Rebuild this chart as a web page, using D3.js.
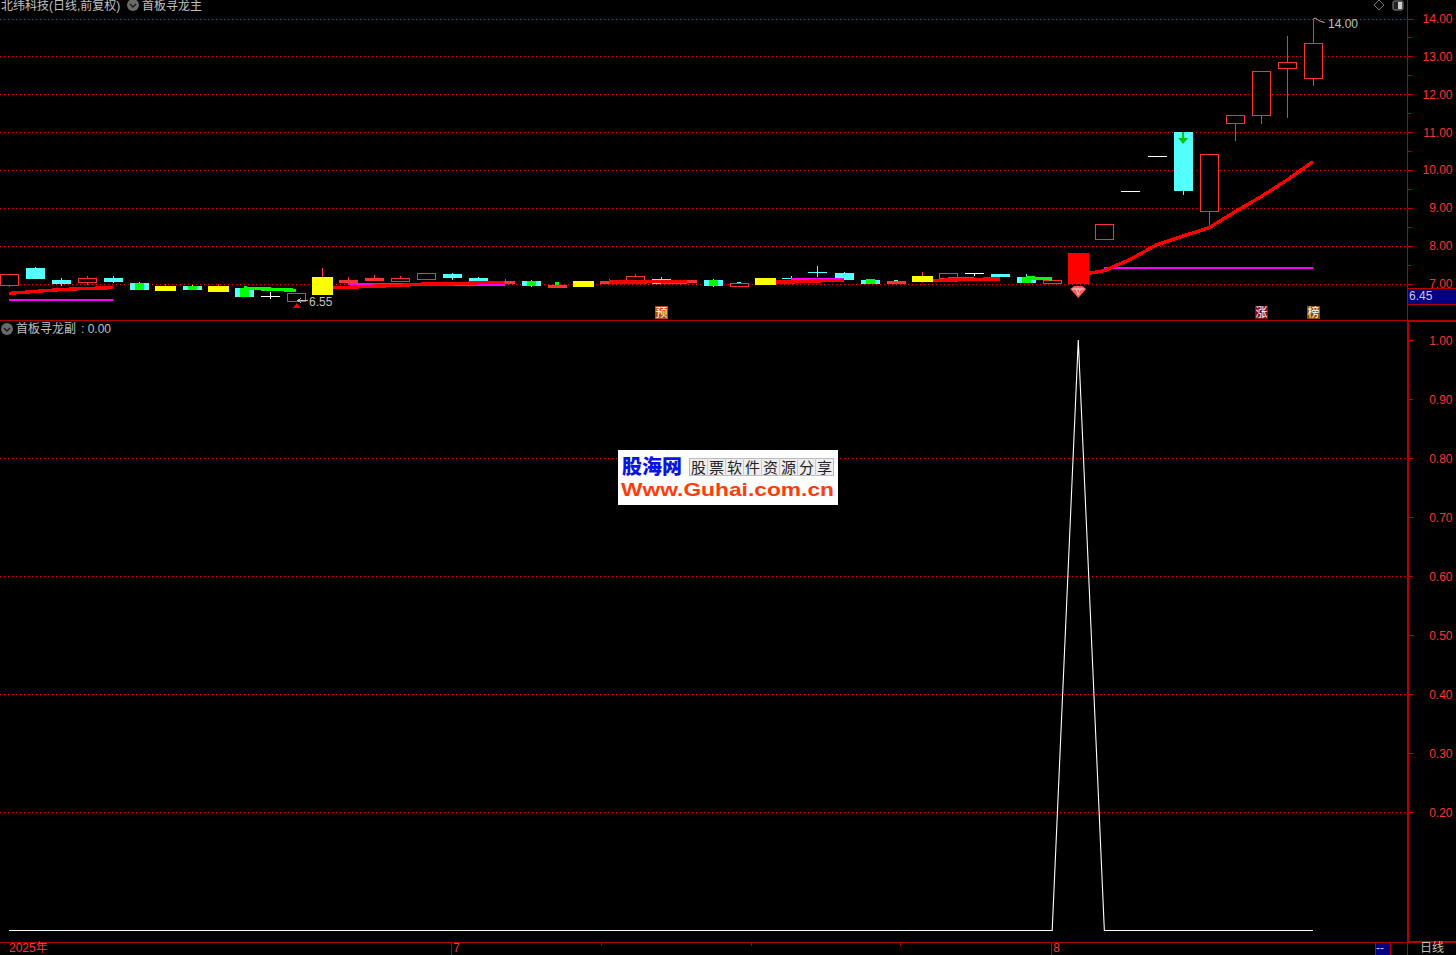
<!DOCTYPE html>
<html><head><meta charset="utf-8">
<style>html,body{margin:0;padding:0;background:#000;overflow:hidden}svg{display:block}
text{font-family:"Liberation Sans","Noto Sans CJK SC",sans-serif;font-size:12px}</style>
<script src="https://cdnjs.cloudflare.com/ajax/libs/d3/7.9.0/d3.min.js"></script>
</head><body><svg id="c" width="1456" height="955"></svg>
<script>
// ---- data ----
const kinds = ["h","c","c","h","c","c","y","c","y","c","w","h","y","h","h","h","h","c","c","h","c","h","y","h","h","c","h","c","h","y","c","c","c","c","h","y","h","w","c","c","h","r","h","w","w","c","h","h","h","h","h"];
const bodyTop = [7.25,7.41,7.09,7.14,7.15,7.01,6.93,6.93,6.93,6.88,6.67,6.74,7.17,7.09,7.15,7.15,7.28,7.25,7.15,7.07,7.07,6.96,7.07,7.07,7.20,7.12,7.09,7.09,7.01,7.15,7.15,7.30,7.28,7.09,7.07,7.20,7.28,7.27,7.25,7.17,7.09,7.81,8.56,9.44,10.37,11.00,10.41,11.44,12.61,12.84,13.35];
const bodyBottom = [6.97,7.15,7.01,7.05,7.07,6.85,6.83,6.85,6.80,6.67,6.67,6.55,6.72,7.04,7.09,7.07,7.12,7.17,7.07,7.01,6.96,6.91,6.93,7.01,7.01,7.01,7.04,6.96,6.94,6.99,7.15,7.30,7.12,7.01,7.01,7.07,7.14,7.27,7.20,7.04,7.01,7.01,8.18,9.44,10.37,9.47,8.91,11.25,11.44,12.70,12.44];
const highs = [7.25,7.44,7.15,7.20,7.20,7.04,6.99,6.97,6.99,6.88,6.77,6.74,7.41,7.17,7.22,7.20,7.28,7.28,7.17,7.12,7.09,6.96,7.07,7.12,7.25,7.17,7.09,7.12,7.01,7.15,7.20,7.46,7.30,7.12,7.07,7.30,7.28,7.27,7.25,7.25,7.09,7.81,8.56,9.44,10.37,11.00,10.41,11.44,12.61,13.54,14.00];
const lows = [6.92,7.11,6.94,6.97,7.01,6.85,6.80,6.85,6.80,6.67,6.59,6.55,6.72,7.04,7.09,7.07,7.12,7.09,7.07,7.01,6.91,6.91,6.91,7.01,7.01,7.01,7.04,6.91,6.94,6.99,7.09,7.17,7.12,6.99,7.01,7.07,7.14,7.20,7.17,7.01,7.01,7.01,8.18,9.44,10.37,9.35,8.50,10.77,11.22,11.38,12.22];

const greenIdx = [5,7,9,20,27,33,39];
const greenTop = [7.01,6.93,6.88,7.07,7.09,7.12,7.17];
const greenBottom = [6.83,6.83,6.64,6.93,6.93,6.99,7.01];
const tinyIdx = [21,28,34];
const tinyTop = [7.04,7.05,7.09];
const tinyBottom = [6.96,7.01,7.07];

const trendRed = [6.74,6.79,6.84,6.87,6.89,null,null,null,null,null,null,null,6.88,6.90,6.93,6.95,6.99,6.99,7.02,7.03,null,null,null,7.04,7.04,7.05,7.05,null,null,7.03,7.04,7.07,7.08,null,null,7.07,7.09,7.11,7.12,null,null,7.22,7.34,7.64,8.02,8.25,8.47,8.89,9.29,9.73,10.22];
const trendGreen = [null,null,null,null,null,null,null,null,null,6.88,6.85,6.82,null,null,null,null,null,null,null,null,null,null,null,null,null,null,null,null,null,null,null,null,null,null,null,null,null,null,null,7.15,7.12,null,null,null,null,null,null,null,null,null,null];
const support = [6.56,6.56,6.56,6.56,6.56,null,null,null,null,null,null,null,null,6.98,6.98,6.98,6.98,6.97,6.97,6.97,null,null,null,null,null,7.01,7.01,null,null,null,7.11,7.11,7.11,null,null,null,7.15,7.15,null,null,null,null,7.41,7.41,7.41,7.41,7.41,7.41,7.41,7.41,7.41];
const signal = kinds.map((k,i)=> i===41 ? 1 : 0);

const priceTicks = [14,13,12,11,10,9,8,7];
const priceMinor = [13.5,12.5,11.5,10.5,9.5,8.5,7.5];
const subTicks = [1,.9,.8,.7,.6,.5,.4,.3,.2];
const subGrid = [.8,.6,.4,.2];
const timeTicks = [17,22.75,28.5,34.2,40];
const timeLabels = [{i:0,t:"2025年"},{i:17,t:"7"},{i:40,t:"8"}];
const tagMarks = [{i:25,t:"预",c:"#b04a12"},{i:48,t:"涨",c:"#8c0c0c"},{i:50,t:"榜",c:"#8a4c06"}];

// ---- scales ----
const x = d3.scaleLinear().domain([0,50]).range([9,1313]);
const y = d3.scaleLinear().domain([7,14]).range([283.5,18.5]);
const ys = d3.scaleLinear().domain([0,1]).range([930.5,340]);
const svg = d3.select("#c");
const RED="#ff3232", AX="#b40000", GRID="#f00000", GREY="#c0c0c0";
const cx = d => Math.round(x(d));
const snap = v => Math.round(v);

svg.append("rect").attr("width",1456).attr("height",955).attr("fill","#000");

// grid
const grid = svg.append("g").attr("stroke",GRID).attr("stroke-dasharray","1 3").attr("shape-rendering","crispEdges");
grid.selectAll("line.p").data(priceTicks).join("line").attr("class","p").attr("x1",0).attr("x2",1407).attr("y1",d=>snap(y(d))+.5).attr("y2",d=>snap(y(d))+.5);
grid.selectAll("line.s").data(subGrid).join("line").attr("class","s").attr("x1",0).attr("x2",1407).attr("y1",d=>snap(ys(d))+.5).attr("y2",d=>snap(ys(d))+.5);

// candles (non-overlay kinds)
const idx = d3.range(kinds.length);
const colour = {h:RED,c:"#54ffff",y:"#ffff00",r:"#ff0000",w:"#ffffff"};
const wickColour = k => k==="y" ? "#ff2a6a" : colour[k];
svg.append("defs").append("clipPath").attr("id","plot").append("rect").attr("x",0).attr("y",0).attr("width",1407).attr("height",320);
const up = svg.append("g").attr("clip-path","url(#plot)").attr("shape-rendering","crispEdges");

function candles(g, list){
  g.selectAll("line.w").data(list).join("line").attr("class","w")
    .attr("x1",i=>cx(i)+.5).attr("x2",i=>cx(i)+.5)
    .attr("y1",i=>y(highs[i])).attr("y2",i=>y(lows[i]))
    .attr("stroke",i=>wickColour(kinds[i]));
  g.selectAll("rect.b").data(list.filter(i=>bodyTop[i]!==bodyBottom[i])).join("rect").attr("class","b")
    .each(function(i){
      const k=kinds[i], t=snap(y(bodyTop[i])), b=snap(y(bodyBottom[i]));
      const s=d3.select(this);
      if(k==="h"){
        s.attr("x",cx(i)-9+.5).attr("y",t+.5).attr("width",18).attr("height",Math.max(1,b-t)).attr("fill",(b-t)<=2?RED:"#000").attr("stroke",RED);
      } else {
        const hw=(k==="y"||k==="r")?10:9;
        s.attr("x",cx(i)-hw).attr("y",t).attr("width",2*hw+1).attr("height",b-t+1).attr("fill",colour[k]);
      }
    });
  g.selectAll("line.d").data(list.filter(i=>bodyTop[i]===bodyBottom[i])).join("line").attr("class","d")
    .attr("x1",i=>cx(i)-9).attr("x2",i=>cx(i)+10)
    .attr("y1",i=>snap(y(bodyTop[i]))+.5).attr("y2",i=>snap(y(bodyTop[i]))+.5)
    .attr("stroke",i=>colour[kinds[i]]);
}
candles(up.append("g"), idx.filter(i=>kinds[i]!=="y"&&kinds[i]!=="r"));

// indicator lines
const lineGen = d3.line().defined(d=>d.v!==null).x(d=>x(d.i)).y(d=>y(d.v));
const series = a => a.map((v,i)=>({i,v}));
const lines = svg.append("g").attr("clip-path","url(#plot)").attr("fill","none").attr("shape-rendering","crispEdges");
lines.append("path").attr("d",lineGen(series(support))).attr("stroke","#ff00ff").attr("stroke-width",2);
lines.append("path").attr("d",lineGen(series(trendRed))).attr("stroke","#ff0000").attr("stroke-width",3.4);
lines.append("path").attr("d",lineGen(series(trendGreen))).attr("stroke","#00ff00").attr("stroke-width",3.4);

// solid overlays
const over = svg.append("g").attr("clip-path","url(#plot)").attr("shape-rendering","crispEdges");
candles(over.append("g"), idx.filter(i=>kinds[i]==="y"||kinds[i]==="r"));
over.selectAll("rect.g").data(greenIdx).join("rect").attr("class","g")
  .attr("x",d=>cx(d)-4).attr("width",9)
  .attr("y",(d,i)=>snap(y(greenTop[i]))).attr("height",(d,i)=>snap(y(greenBottom[i]))-snap(y(greenTop[i])))
  .attr("fill","#00ff00");
over.selectAll("rect.t").data(tinyIdx).join("rect").attr("class","t")
  .attr("x",d=>cx(d)-2).attr("width",4)
  .attr("y",(d,i)=>snap(y(tinyTop[i]))).attr("height",(d,i)=>snap(y(tinyBottom[i]))-snap(y(tinyTop[i])))
  .attr("fill",(d,i)=>i===0?"#00ff00":"#54ffff");

// gem below the launch candle
const gx=x(41);
const gem=svg.append("g").attr("transform",`translate(${gx},286)`);
gem.append("path").attr("d","M-8,3 L-4,0 L4,0 L8,3 L0,12 Z").attr("fill","#ff5a5a");
gem.append("path").attr("d","M-6,3 L6,3 M-2,3 L0,9 L2,3").attr("stroke","#ffd8d8").attr("stroke-width",1).attr("fill","none");

// green arrow on down candle
const ax=x(45)+.5, ay=y(11);
svg.append("path").attr("d",`M${ax-1},${ay} h2 v6 h4 l-5,6 l-5,-6 h4 Z`).attr("fill","#00c800");

// red triangle + low label
const lx=x(11)+1;
svg.append("path").attr("d",`M${lx},303 l4,5 h-8 Z`).attr("fill","#ff0000");
svg.append("path").attr("d",`M${lx},300.5 H308 M${lx},300.5 l4,-2 M${lx},300.5 l4,2`).attr("stroke",GREY).attr("fill","none").attr("shape-rendering","crispEdges");
svg.append("text").attr("x",309).attr("y",306).attr("fill",GREY).text(lows[11].toFixed(2));
// high label
const hx=x(50)+.5;
svg.append("path").attr("d",`M${hx},${y(14)} q2,-1 4,1 t7,3`).attr("stroke",GREY).attr("fill","none");
svg.append("text").attr("x",1328).attr("y",28).attr("fill",GREY).text(highs[50].toFixed(2));

// tag markers
const tg=svg.append("g").selectAll("g").data(tagMarks).join("g").attr("transform",d=>`translate(${Math.round(x(d.i))},0)`);
tg.append("rect").attr("x",-6).attr("y",306).attr("width",13).attr("height",13).attr("fill",d=>d.c);
tg.append("text").attr("x",.5).attr("y",317).attr("text-anchor","middle").attr("fill","#fff").text(d=>d.t);

// sub pane line
svg.append("path").datum(signal)
  .attr("d",d3.line().x((d,i)=>x(i)).y(d=>ys(d)))
  .attr("fill","none").attr("stroke","#ffffff").attr("stroke-width",1.1);

// frame
const fr=svg.append("g").attr("shape-rendering","crispEdges");
fr.append("line").attr("x1",0).attr("x2",1456).attr("y1",320.5).attr("y2",320.5).attr("stroke",AX);
fr.append("line").attr("x1",0).attr("x2",1408).attr("y1",942.5).attr("y2",942.5).attr("stroke",AX);
fr.append("line").attr("x1",1407.5).attr("x2",1407.5).attr("y1",0).attr("y2",955).attr("stroke",AX);
fr.append("rect").attr("x",1407).attr("y",320).attr("width",2).attr("height",622).attr("fill",AX);
fr.append("rect").attr("x",1407).attr("y",941).attr("width",49).attr("height",2).attr("fill",AX);
fr.append("rect").attr("x",1407).attr("y",320).attr("width",49).attr("height",2).attr("fill",AX);

// price axis
const ta=fr.append("g").attr("stroke",AX);
ta.selectAll("line.a").data(priceTicks).join("line").attr("class","a").attr("x1",1408).attr("x2",1413).attr("y1",d=>snap(y(d))+.5).attr("y2",d=>snap(y(d))+.5);
ta.selectAll("line.m").data(priceMinor).join("line").attr("class","m").attr("x1",1408).attr("x2",1411).attr("y1",d=>snap(y(d))+.5).attr("y2",d=>snap(y(d))+.5);
ta.selectAll("line.s").data(subTicks).join("line").attr("class","s").attr("x1",1408).attr("x2",1413).attr("y1",d=>snap(ys(d))+.5).attr("y2",d=>snap(ys(d))+.5);
svg.append("g").selectAll("text.p").data(priceTicks).join("text").attr("class","p").attr("x",1452.5).attr("y",d=>y(d)+4.5).attr("text-anchor","end").attr("fill",RED).text(d=>d.toFixed(2));
svg.append("g").selectAll("text.s").data(subTicks).join("text").attr("class","s").attr("x",1452.5).attr("y",d=>ys(d)+4.5).attr("text-anchor","end").attr("fill",RED).text(d=>d.toFixed(2));

// cursor price box
fr.append("rect").attr("x",1408).attr("y",289).attr("width",48).attr("height",15).attr("fill","#000080");
fr.append("line").attr("x1",1408).attr("x2",1456).attr("y1",288.5).attr("y2",288.5).attr("stroke",AX);
fr.append("line").attr("x1",1408).attr("x2",1456).attr("y1",304.5).attr("y2",304.5).attr("stroke",AX);
svg.append("text").attr("x",1409).attr("y",300).attr("fill","#c8c8e8").text("6.45");

// time axis
fr.append("g").selectAll("line").data(timeTicks).join("line")
  .attr("x1",d=>Math.round(x(d))-.5).attr("x2",d=>Math.round(x(d))-.5).attr("y1",943).attr("y2",d=>Number.isInteger(d)?955:946).attr("stroke",AX);
svg.append("g").selectAll("text").data(timeLabels).join("text").attr("x",d=>d.i===0?9:x(d.i)+1).attr("y",952).attr("fill",RED).text(d=>d.t);

// status boxes at bottom
fr.append("rect").attr("x",1376).attr("y",943).attr("width",14).attr("height",12).attr("fill","#000080");
fr.append("line").attr("x1",1375.5).attr("x2",1375.5).attr("y1",943).attr("y2",955).attr("stroke",AX);
fr.append("line").attr("x1",1390.5).attr("x2",1390.5).attr("y1",943).attr("y2",955).attr("stroke",AX);
svg.append("text").attr("x",1376).attr("y",952).attr("fill","#c8c8e8").text("--");
svg.append("text").attr("x",1420).attr("y",952).attr("fill",GREY).text("日线");

// headers
function chevron(cxv,cyv){
  const g=svg.append("g").attr("transform",`translate(${cxv},${cyv})`);
  g.append("circle").attr("r",6).attr("fill","#6a6a6a");
  g.append("path").attr("d","M-3,-1 L0,2 L3,-1").attr("stroke","#1a1a1a").attr("stroke-width",1.4).attr("fill","none");
}
svg.append("text").attr("x",1).attr("y",10).attr("fill",GREY).text("北纬科技(日线,前复权)");
chevron(133,5);
svg.append("text").attr("x",142).attr("y",10).attr("fill",GREY).text("首板寻龙主");
chevron(7,329);
svg.append("text").attr("x",16).attr("y",333).attr("fill",GREY).text("首板寻龙副");
svg.append("text").attr("x",81).attr("y",333).attr("fill",GREY).text(": "+signal[0].toFixed(2));
svg.append("path").attr("d","M1379,0 L1384,5 L1379,10 L1374,5 Z").attr("fill","none").attr("stroke","#777");
svg.append("rect").attr("x",1393).attr("y",1).attr("width",10).attr("height",9).attr("rx",1.5).attr("fill","#222").attr("stroke","#888");
svg.append("rect").attr("x",1398).attr("y",2).attr("width",4).attr("height",7).attr("fill","#ccc");

// watermark
const wm=svg.append("g");
wm.append("rect").attr("x",618).attr("y",450).attr("width",220).attr("height",55).attr("fill","#fff");
wm.append("text").attr("x",622).attr("y",474).attr("fill","#0a14e0").attr("style","font-size:20px;font-weight:900").text("股海网");
const wmChars=["股","票","软","件","资","源","分","享"];
const cells=wm.append("g");
cells.append("rect").attr("x",689.5).attr("y",458.5).attr("width",144).attr("height",17).attr("fill","#eee").attr("stroke","#bbb");
cells.selectAll("line").data(d3.range(1,8)).join("line").attr("x1",d=>689.5+d*18).attr("x2",d=>689.5+d*18).attr("y1",458).attr("y2",476).attr("stroke","#ccc");
cells.selectAll("text").data(wmChars).join("text").attr("x",(d,i)=>698.5+i*18).attr("y",472.5).attr("text-anchor","middle").attr("fill","#222").attr("style","font-size:15px;font-family:'Noto Sans CJK SC'").text(d=>d);
wm.append("text").attr("x",621).attr("y",496).attr("textLength",213).attr("lengthAdjust","spacingAndGlyphs").attr("fill","#ff3c0a").attr("style","font-size:19px;font-weight:700;font-family:'Liberation Sans'").text("Www.Guhai.com.cn");
</script></body></html>
